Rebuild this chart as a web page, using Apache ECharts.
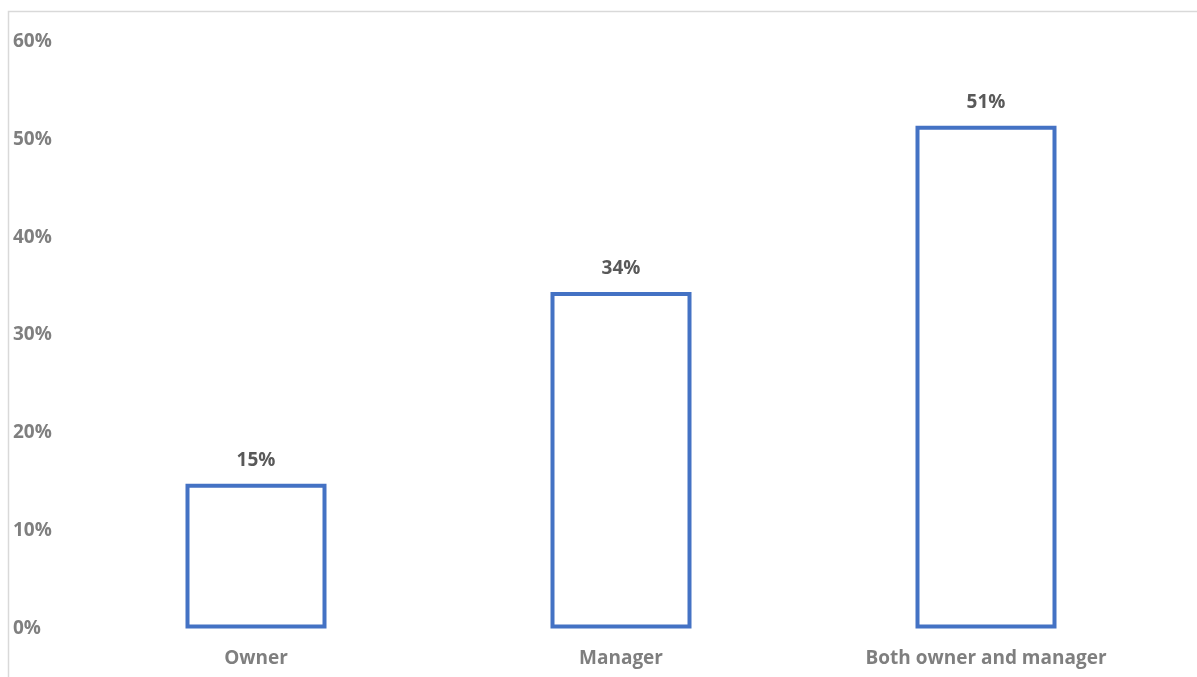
<!DOCTYPE html>
<html>
<head>
<meta charset="utf-8">
<script src="https://cdn.jsdelivr.net/npm/echarts@6/dist/echarts.min.js"></script>
<style>
html,body{margin:0;padding:0;background:#fff;}
#chart{width:1197px;height:677px;}
</style>
</head>
<body>
<div id="chart"></div>
<script>
const categories = ['Owner', 'Manager', 'Both owner and manager'];
const values = [0.148, 0.344, 0.514];
const yTicks = [0, 0.1, 0.2, 0.3, 0.4, 0.5, 0.6];

const chart = echarts.init(document.getElementById('chart'));
const font = '"Open Sans", "Liberation Sans", sans-serif';
chart.setOption({
  animation: false,
  backgroundColor: '#ffffff',
  graphic: [{
    type: 'rect',
    shape: {x: 8.5, y: 11.5, width: 1400, height: 1000},
    style: {fill: 'none', stroke: '#d9d9d9', lineWidth: 1.5},
    silent: true
  }],
  grid: {left: 73.5, right: 28.5, top: 41.5, bottom: 48.5},
  xAxis: {
    type: 'category',
    data: categories,
    axisLine: {show: false},
    axisTick: {show: false},
    axisLabel: {
      margin: 20.5,
      color: '#7f7f7f',
      fontWeight: 'bold',
      fontSize: 19,
      fontFamily: font
    }
  },
  yAxis: {
    type: 'value',
    min: yTicks[0],
    max: yTicks[yTicks.length - 1],
    interval: 0.1,
    splitLine: {show: false},
    axisLine: {show: false},
    axisTick: {show: false},
    axisLabel: {
      align: 'left',
      margin: 60.5,
      color: '#7f7f7f',
      fontWeight: 'bold',
      fontSize: 19,
      fontFamily: font,
      formatter: v => Math.round(v * 100) + '%'
    }
  },
  series: [{
    type: 'bar',
    data: values,
    barWidth: 141,
    itemStyle: {color: '#ffffff', borderColor: '#4472c4', borderWidth: 4},
    label: {
      show: true,
      position: 'top',
      distance: 14,
      color: '#595959',
      fontWeight: 'bold',
      fontSize: 19,
      fontFamily: font,
      formatter: p => Math.round(p.value * 100) + '%'
    }
  }]
});
</script>
</body>
</html>
